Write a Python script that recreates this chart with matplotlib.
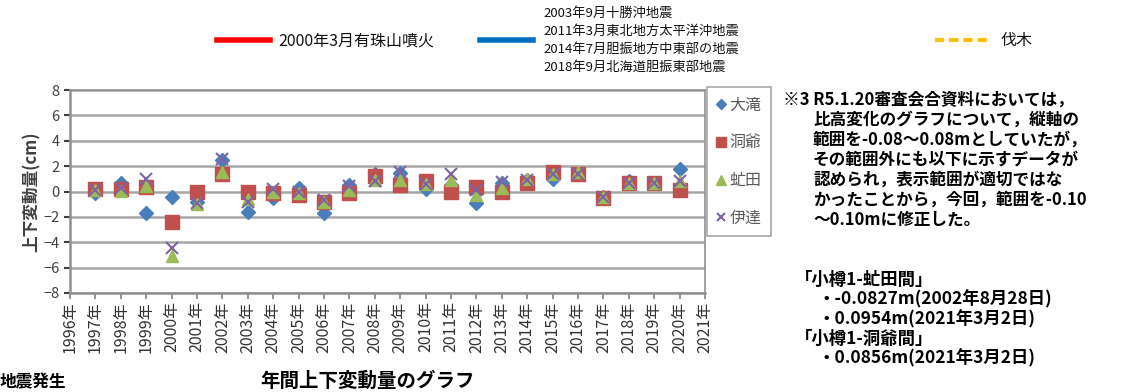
import matplotlib
matplotlib.use('Agg')
import matplotlib.pyplot as plt
from matplotlib.lines import Line2D

plt.rcParams['font.family'] = ['Noto Sans CJK JP', 'DejaVu Sans']

# 年間上下変動量 (cm)
years = list(range(1997, 2021))
tick_years = list(range(1996, 2022))
ootaki = [-0.1, 0.65, -1.7, -0.45, -0.8, 2.5, -1.6, -0.55, 0.3, -1.7, 0.5, 1.4,
          1.45, 0.2, 0.5, -0.9, 0.7, 0.9, 1.0, 1.4, -0.4, 0.8, 0.7, 1.8]
touya = [0.2, 0.2, 0.35, -2.4, 0.0, 1.4, 0.0, -0.1, -0.25, -0.85, -0.1, 1.2,
         0.5, 0.8, 0.0, 0.35, 0.0, 0.65, 1.55, 1.4, -0.5, 0.65, 0.65, 0.15]
abuta = [0.1, 0.05, 0.4, -5.1, -1.0, 1.55, -0.6, 0.0, -0.1, -0.85, 0.1, 0.9,
         0.9, 0.6, 0.9, -0.25, 0.25, 1.0, 1.4, 1.55, -0.4, 0.7, 0.65, 0.8]
date = [0.1, 0.3, 1.0, -4.45, -0.9, 2.6, -0.8, 0.2, 0.0, -0.65, 0.4, 0.8,
        1.5, 0.6, 1.4, 0.1, 0.75, 0.9, 1.4, 1.4, -0.4, 0.7, 0.65, 0.8]

W, H = 1121, 392


def fx(px):
    return px / W


def fy(py):
    return 1 - py / H


fig = plt.figure(figsize=(W / 100, H / 100), dpi=100)
ax = fig.add_axes([fx(70), fy(293), fx(705) - fx(70), fy(90) - fy(293)])

ax.plot(years, ootaki, 'D', color='#4a7ebb', ms=7, label='大滝', zorder=3)
ax.plot(years, touya, 's', color='#c0504d', ms=9.5, label='洞爺', zorder=4)
ax.plot(years, abuta, '^', color='#9bbb59', ms=9, label='虻田', zorder=5)
ax.plot(years, date, 'x', color='#8064a2', ms=8, mew=1.5, label='伊達', zorder=6)

ax.set_xlim(1996, 2021)
ax.set_ylim(-8, 8)
ax.set_yticks(range(-8, 9, 2))
ax.set_xticks(tick_years)
ax.set_xticklabels([f'{y}年' for y in tick_years], rotation=90, fontsize=11.5, color='#333333')
ax.tick_params(axis='y', labelsize=10.5, colors='#404040', length=4, width=1.5, direction='out')
ax.tick_params(axis='x', length=4, width=1.2, direction='out', color='#808080', pad=2)
ax.yaxis.grid(True, color='#a6a6a6', linewidth=1.8)
ax.set_axisbelow(True)
for side in ['top', 'right']:
    ax.spines[side].set_color('#909090')
    ax.spines[side].set_linewidth(1.2)
for side in ['left', 'bottom']:
    ax.spines[side].set_color('#909090')
    ax.spines[side].set_linewidth(1.8)
ax.set_ylabel('上下変動量(cm)', fontsize=12, fontweight='bold', color='#404040', labelpad=2)

leg = fig.legend(loc='upper left', bbox_to_anchor=(fx(707), fy(87)), fontsize=11.5,
                 frameon=True, fancybox=False, edgecolor='#909090', labelspacing=1.3,
                 handlelength=0.6, handletextpad=0.2, borderpad=0.6, borderaxespad=0,
                 markerscale=0.75, labelcolor='#595959')
leg.get_frame().set_linewidth(1.2)

# 上部の凡例
fig.add_artist(Line2D([fx(217), fx(270)], [fy(40), fy(40)], color='#ff0000', lw=4))
fig.text(fx(278), fy(41), '2000年3月有珠山噴火', fontsize=11.5, va='center', color='#111111')
fig.add_artist(Line2D([fx(480), fx(533)], [fy(40), fy(40)], color='#0070c0', lw=4))
quakes = ['2003年9月十勝沖地震', '2011年3月東北地方太平洋沖地震',
          '2014年7月胆振地方中東部の地震', '2018年9月北海道胆振東部地震']
for i, q in enumerate(quakes):
    fig.text(fx(543), fy(13 + i * 18), q, fontsize=9.5, va='center', color='#111111')
fig.add_artist(Line2D([fx(935), fx(990)], [fy(40), fy(40)], color='#ffc000', lw=3,
                      linestyle=(0, (2.2, 1.2))))
fig.text(fx(1000), fy(41), '伐木', fontsize=11.5, va='center', color='#111111')

# 注記
note = ['比高変化のグラフについて，縦軸の', '範囲を-0.08～0.08mとしていたが，',
        'その範囲外にも以下に示すデータが', '認められ，表示範囲が適切ではな',
        'かったことから，今回，範囲を-0.10', '～0.10mに修正した。']
fig.text(fx(783), fy(100), '※3 R5.1.20審査会合資料においては，', fontsize=12,
         fontweight='bold', va='center')
for i, line in enumerate(note):
    fig.text(fx(813), fy(120 + i * 20), line, fontsize=12, fontweight='bold', va='center')

extra = [('「小樽1-虻田間」', 795), ('・-0.0827m(2002年8月28日)', 818),
         ('・0.0954m(2021年3月2日)', 818), ('「小樽1-洞爺間」', 795),
         ('・0.0856m(2021年3月2日)', 818)]
for i, (line, x0) in enumerate(extra):
    fig.text(fx(x0), fy(280 + i * 19.5), line, fontsize=12.5, fontweight='bold', va='center')

fig.text(fx(0), fy(382), '地震発生', fontsize=12, fontweight='bold', va='center')
fig.text(fx(368), fy(381), '年間上下変動量のグラフ', fontsize=14, fontweight='bold',
         va='center', ha='center')

fig.savefig('out.png', dpi=100)
